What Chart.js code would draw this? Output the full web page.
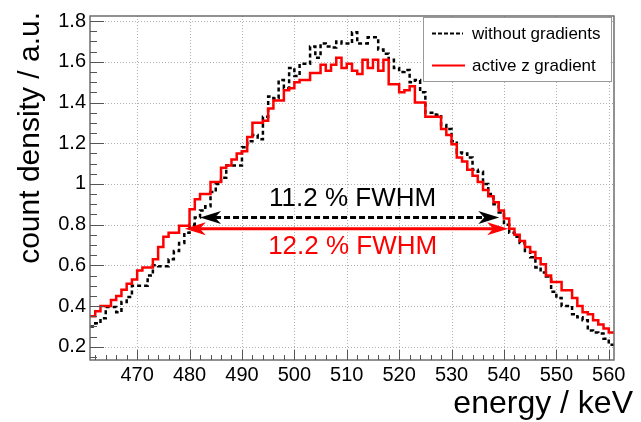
<!DOCTYPE html>
<html>
<head>
<meta charset="utf-8">
<script src="https://cdn.jsdelivr.net/npm/chart.js@4.4.1/dist/chart.umd.min.js"></script>
<style>
  body { margin: 0; background: #fff; }
  canvas { display: block; }
</style>
</head>
<body>
<canvas id="myChart" width="641" height="422"></canvas>
<script>
'use strict';

// histogram bins, 1 keV wide, first bin starts at 461 keV
const binStart = 461;
const binWidth = 1;

const without_gradients = [
  0.30, 0.315, 0.34, 0.395, 0.395, 0.37, 0.42, 0.445, 0.50, 0.50,
  0.50, 0.55, 0.60, 0.595, 0.595, 0.63, 0.67, 0.71, 0.76, 0.80,
  0.835, 0.87, 0.89, 0.96, 1.00, 1.03, 1.09, 1.09, 1.09, 1.18,
  1.21, 1.24, 1.22, 1.33, 1.43, 1.42, 1.51, 1.47, 1.57, 1.53,
  1.59, 1.59, 1.675, 1.62, 1.69, 1.675, 1.67, 1.70, 1.69, 1.69,
  1.745, 1.69, 1.69, 1.72, 1.72, 1.66, 1.64, 1.61, 1.57, 1.55,
  1.56, 1.50, 1.51, 1.45, 1.35, 1.35, 1.34, 1.29, 1.27, 1.21,
  1.155, 1.15, 1.13, 1.07, 1.06, 1.00, 0.95, 0.90, 0.86, 0.80,
  0.76, 0.74, 0.71, 0.67, 0.64, 0.59, 0.565, 0.545, 0.47, 0.44,
  0.40, 0.40, 0.36, 0.345, 0.33, 0.28, 0.27, 0.265, 0.24, 0.21
];

const active_z_gradient = [
  0.35, 0.375, 0.40, 0.40, 0.43, 0.45, 0.48, 0.51, 0.53, 0.575,
  0.59, 0.59, 0.63, 0.69, 0.74, 0.76, 0.76, 0.795, 0.795, 0.875,
  0.925, 0.95, 0.95, 1.01, 1.01, 1.08, 1.09, 1.12, 1.15, 1.16,
  1.23, 1.30, 1.30, 1.31, 1.37, 1.41, 1.41, 1.46, 1.47, 1.50,
  1.51, 1.51, 1.545, 1.545, 1.585, 1.556, 1.585, 1.62, 1.57, 1.59,
  1.556, 1.54, 1.61, 1.57, 1.61, 1.556, 1.61, 1.49, 1.49, 1.45,
  1.46, 1.48, 1.40, 1.40, 1.33, 1.33, 1.33, 1.27, 1.24, 1.195,
  1.13, 1.11, 1.07, 1.04, 1.01, 0.97, 0.94, 0.91, 0.87, 0.83,
  0.78, 0.75, 0.72, 0.69, 0.665, 0.635, 0.605, 0.55, 0.518, 0.518,
  0.478, 0.478, 0.44, 0.40, 0.37, 0.36, 0.33, 0.31, 0.29, 0.27
];

const xTicks = [470, 480, 490, 500, 510, 520, 530, 540, 550, 560];
const yTicks = [0.2, 0.4, 0.6, 0.8, 1, 1.2, 1.4, 1.6, 1.8];

// FWHM markers: [left edge keV, right edge keV, half height]
const fwhm_without = [482.0, 539.1, 0.835];
const fwhm_active = [479.1, 540.8, 0.78];
const fwhm_labels = ['11.2 % FWHM', '12.2 % FWHM'];
const legend_labels = ['without gradients', 'active z gradient'];

const FONT = '"Liberation Sans", Arial, Helvetica, sans-serif';

function histPoints(vals) {
  const pts = vals.map((v, i) => ({x: binStart + i * binWidth, y: v}));
  // closing edge of the last bin
  pts.push({x: binStart + vals.length * binWidth, y: vals[vals.length - 1]});
  return pts;
}

function arrowHead(ctx, tipX, tipY, dir) {
  const len = 21, half = 6.5, notch = 6;
  ctx.beginPath();
  ctx.moveTo(tipX, tipY);
  ctx.lineTo(tipX - dir * len, tipY - half);
  ctx.lineTo(tipX - dir * (len - notch), tipY);
  ctx.lineTo(tipX - dir * len, tipY + half);
  ctx.closePath();
  ctx.fill();
}

function drawArrow(ctx, x, y, marker, color, dash) {
  const x1 = x.getPixelForValue(marker[0]);
  const x2 = x.getPixelForValue(marker[1]);
  const py = y.getPixelForValue(marker[2]);
  ctx.save();
  ctx.strokeStyle = color;
  ctx.fillStyle = color;
  ctx.lineWidth = 3;
  ctx.setLineDash(dash);
  ctx.beginPath();
  ctx.moveTo(x1 + 15, py);
  ctx.lineTo(x2 - 15, py);
  ctx.stroke();
  ctx.setLineDash([]);
  arrowHead(ctx, x1, py, -1);
  arrowHead(ctx, x2, py, 1);
  ctx.restore();
  return {mid: (x1 + x2) / 2, py: py};
}

const rootStyle = {
  id: 'rootStyle',
  beforeDatasetsDraw(chart) {
    const {ctx, chartArea: a, scales: {x, y}} = chart;
    ctx.save();
    ctx.strokeStyle = '#b0b0b0';
    ctx.lineWidth = 1;
    ctx.setLineDash([1, 2]);
    xTicks.forEach(v => {
      const px = Math.round(x.getPixelForValue(v)) + 0.5;
      ctx.beginPath(); ctx.moveTo(px, a.top); ctx.lineTo(px, a.bottom); ctx.stroke();
    });
    yTicks.forEach(v => {
      const py = Math.round(y.getPixelForValue(v)) + 0.5;
      ctx.beginPath(); ctx.moveTo(a.left, py); ctx.lineTo(a.right, py); ctx.stroke();
    });
    ctx.restore();
  },
  afterDatasetsDraw(chart) {
    const {ctx, chartArea: a, scales: {x, y}} = chart;

    // frame
    ctx.save();
    ctx.strokeStyle = '#6e6e6e';
    ctx.lineWidth = 1.5;
    ctx.strokeRect(a.left, a.top, a.right - a.left, a.bottom - a.top);

    // tick marks, drawn inward
    ctx.strokeStyle = '#555';
    ctx.lineWidth = 1;
    for (let k = 462; k <= 561; k += 2) {
      const px = Math.round(x.getPixelForValue(k)) + 0.5;
      const len = (k % 10 === 0) ? 10 : 5;
      ctx.beginPath(); ctx.moveTo(px, a.bottom); ctx.lineTo(px, a.bottom - len); ctx.stroke();
    }
    for (let k = 3; k <= 36; k++) {
      const v = k * 0.05;
      const py = Math.round(y.getPixelForValue(v)) + 0.5;
      const len = (k % 4 === 0) ? 14 : 7;
      ctx.beginPath(); ctx.moveTo(a.left, py); ctx.lineTo(a.left + len, py); ctx.stroke();
    }
    ctx.restore();

    // FWHM arrows and labels
    const b = drawArrow(ctx, x, y, fwhm_without, '#000', [6, 3]);
    const r = drawArrow(ctx, x, y, fwhm_active, '#ff0000', []);
    ctx.save();
    ctx.font = '26px ' + FONT;
    ctx.textAlign = 'center';
    ctx.textBaseline = 'middle';
    ctx.fillStyle = '#000';
    ctx.fillText(fwhm_labels[0], b.mid + 3, b.py - 19);
    ctx.fillStyle = '#ff0000';
    ctx.fillText(fwhm_labels[1], b.mid + 3, r.py + 18);
    ctx.restore();

    // legend box
    ctx.save();
    ctx.fillStyle = '#fff';
    ctx.fillRect(423, 17, 188, 64);
    ctx.strokeStyle = '#999';
    ctx.lineWidth = 1;
    ctx.strokeRect(423.5, 17.5, 188, 64);
    ctx.lineWidth = 2;
    ctx.strokeStyle = '#000';
    ctx.setLineDash([4, 2]);
    ctx.beginPath(); ctx.moveTo(432, 33.5); ctx.lineTo(463, 33.5); ctx.stroke();
    ctx.setLineDash([]);
    ctx.strokeStyle = '#ff0000';
    ctx.beginPath(); ctx.moveTo(432, 65.5); ctx.lineTo(465, 65.5); ctx.stroke();
    ctx.fillStyle = '#000';
    ctx.font = '17px ' + FONT;
    ctx.textBaseline = 'middle';
    ctx.fillText(legend_labels[0], 472, 34);
    ctx.fillText(legend_labels[1], 472, 66);
    ctx.restore();

    // axis titles
    ctx.save();
    ctx.fillStyle = '#000';
    ctx.font = '32px ' + FONT;
    ctx.textAlign = 'right';
    ctx.textBaseline = 'alphabetic';
    ctx.fillText('energy / keV', 633, 413);
    ctx.font = '30px ' + FONT;
    ctx.translate(39, 12);
    ctx.rotate(-Math.PI / 2);
    ctx.fillText('count density / a.u.', 0, 0);
    ctx.restore();
  }
};

const data = {
  datasets: [{
    label: legend_labels[1],
    data: histPoints(active_z_gradient),
    borderColor: '#ff0000',
    borderWidth: 2.5,
    stepped: 'before',
    pointRadius: 0,
    fill: false
  }, {
    label: legend_labels[0],
    data: histPoints(without_gradients),
    borderColor: '#000',
    borderWidth: 2.5,
    borderDash: [4, 3],
    stepped: 'before',
    pointRadius: 0,
    fill: false
  }]
};

const config = {
  type: 'line',
  data: data,
  options: {
    responsive: false,
    animation: false,
    events: [],
    layout: {padding: {top: 14, right: 27, left: 0, bottom: 0}},
    plugins: {legend: {display: false}, tooltip: {enabled: false}},
    scales: {
      x: {
        type: 'linear',
        min: 461,
        max: 561,
        grid: {display: false, drawTicks: false},
        border: {display: false},
        afterFit: s => { s.height = 62; },
        afterBuildTicks: s => { s.ticks = xTicks.map(v => ({value: v})); },
        ticks: {
          font: {family: FONT, size: 20},
          color: '#000',
          padding: 3,
          maxRotation: 0,
          autoSkip: false,
          callback: v => String(v)
        }
      },
      y: {
        type: 'linear',
        min: 0.135,
        max: 1.825,
        grid: {display: false, drawTicks: false},
        border: {display: false},
        afterFit: s => { s.width = 90; },
        afterBuildTicks: s => { s.ticks = yTicks.map(v => ({value: v})); },
        ticks: {
          font: {family: FONT, size: 20},
          color: '#000',
          padding: 4,
          autoSkip: false,
          callback: v => String(+v.toFixed(1))
        }
      }
    }
  },
  plugins: [rootStyle]
};

const myChart = new Chart(document.getElementById('myChart'), config);
</script>
</body>
</html>
